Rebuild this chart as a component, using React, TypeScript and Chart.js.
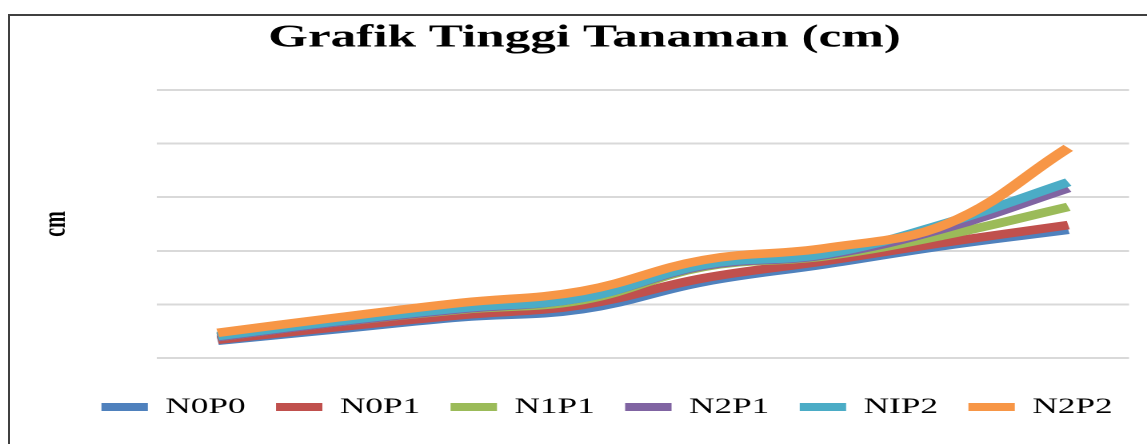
import React, { useEffect, useRef } from 'react';
import { Chart, registerables } from 'chart.js';

Chart.register(...registerables);

// ---- data ----
const categories = ['1', '2', '3', '4', '5', '6', '7', '8'];
const seriesNames = ['N0P0', 'N0P1', 'N1P1', 'N2P1', 'NIP2', 'N2P2'];
const n0p0 = [3.2, 5.4, 7.6, 9.1, 14.2, 17.5, 21.0, 23.9];
const n0p1 = [3.4, 5.8, 8.0, 9.9, 14.9, 18.1, 21.6, 24.8];
const n1p1 = [3.9, 6.7, 9.0, 10.8, 17.0, 19.0, 23.0, 28.2];
const n2p1 = [3.9, 6.7, 9.1, 11.2, 17.2, 19.2, 24.3, 31.7];
const nip2 = [4.1, 6.9, 9.3, 11.2, 17.4, 19.4, 25.2, 32.8];
const n2p2 = [4.7, 7.6, 10.3, 12.5, 18.3, 20.5, 25.0, 39.2];
const seriesColors = ['#4F81BD', '#C0504D', '#9BBB59', '#8064A2', '#4BACC6', '#F79646'];
const yMin = 0;
const yMax = 50;
const yStep = 10;
const chartTitle = 'Grafik Tinggi Tanaman (cm)';
const yTitle = 'cm';

// ---- layout (the reference picture is stretched horizontally) ----
const PAGE_W = 1147;
const PAGE_H = 444;
const NAT_W = 717;
const SX = PAGE_W / NAT_W;
const FONT = "'Liberation Serif', 'Times New Roman', serif";

export default function App() {
  const ref = useRef<HTMLCanvasElement>(null);

  useEffect(() => {
    const canvas = ref.current;
    if (!canvas) return;
    const series = [n0p0, n0p1, n1p1, n2p1, nip2, n2p2];
    const datasets = seriesNames.map((name, i) => ({
      label: name,
      data: series[i],
      borderColor: seriesColors[i],
      backgroundColor: seriesColors[i],
      borderWidth: 8.5,
      pointRadius: 0,
      pointHoverRadius: 0,
      tension: 0.4,
      fill: false,
      borderCapStyle: 'butt',
      borderJoinStyle: 'round',
      order: seriesNames.length - i,
    }));

    const legendPad = 19;
    const shiftPlugin = {
      id: 'shiftBlocks',
      afterLayout(chart: any) {
        const t = chart.titleBlock;
        if (t) {
          const d = 584.5 / SX - (t.left + t.right) / 2;
          t.left += d;
          t.right += d;
        }
        const l = chart.legend;
        if (l) {
          const d = 607 / SX - (l.left + l.right) / 2;
          l.left += d;
          l.right += d;
          const dy = 407 - 11 - legendPad - l.top;
          l.top += dy;
          l.bottom += dy;
        }
      },
    };

    const chart = new Chart(canvas, {
      type: 'line',
      data: { labels: categories, datasets: datasets as any },
      options: {
        animation: false,
        responsive: false,
        devicePixelRatio: 2,
        events: [],
        layout: { padding: { left: 0, right: NAT_W - 1129 / SX, top: 0, bottom: 16 } },
        plugins: {
          title: {
            display: true,
            text: chartTitle,
            color: '#000',
            font: { family: FONT, size: 32, weight: 'bold' },
            padding: { top: 19, bottom: 32.6 },
          },
          legend: {
            display: true,
            position: 'bottom',
            reverse: true,
            labels: {
              boxWidth: 29,
              boxHeight: 8,
              padding: legendPad,
              color: '#000',
              font: { family: FONT, size: 22 },
              generateLabels: (c: any) =>
                (Chart.defaults.plugins.legend.labels as any)
                  .generateLabels(c)
                  .map((it: any) => ({ ...it, lineWidth: 0, fillStyle: it.strokeStyle })),
            },
          },
          tooltip: { enabled: false },
        },
        scales: {
          x: {
            type: 'category',
            offset: true,
            grid: { display: false },
            border: { display: false },
            ticks: { display: false },
            afterFit: (s: any) => {
              s.height = 19;
            },
          },
          y: {
            min: yMin,
            max: yMax,
            ticks: { display: false, stepSize: yStep },
            grid: { color: '#d9d9d9', lineWidth: 2, drawTicks: false },
            border: { display: false },
            title: {
              display: true,
              text: yTitle,
              color: '#000',
              font: { family: FONT, size: 20, weight: 'bold' },
              padding: { top: 23.5, bottom: 0 },
            },
            afterFit: (s: any) => {
              s.width = 157 / SX;
            },
          },
        },
      } as any,
      plugins: [shiftPlugin],
    });
    return () => chart.destroy();
  }, []);

  return (
    <div
      style={{
        position: 'fixed',
        left: 0,
        top: 0,
        width: PAGE_W,
        height: PAGE_H,
        background: '#fff',
        overflow: 'hidden',
      }}
    >
      <div
        style={{
          position: 'absolute',
          left: 8,
          top: 14,
          width: PAGE_W,
          height: PAGE_H,
          borderLeft: '2px solid #404040',
          borderTop: '2px solid #404040',
        }}
      />
      <div
        style={{
          position: 'absolute',
          left: 0,
          top: 0,
          width: NAT_W,
          height: PAGE_H,
          transform: `scaleX(${SX})`,
          transformOrigin: '0 0',
        }}
      >
        <canvas ref={ref} width={NAT_W} height={PAGE_H} />
      </div>
    </div>
  );
}
